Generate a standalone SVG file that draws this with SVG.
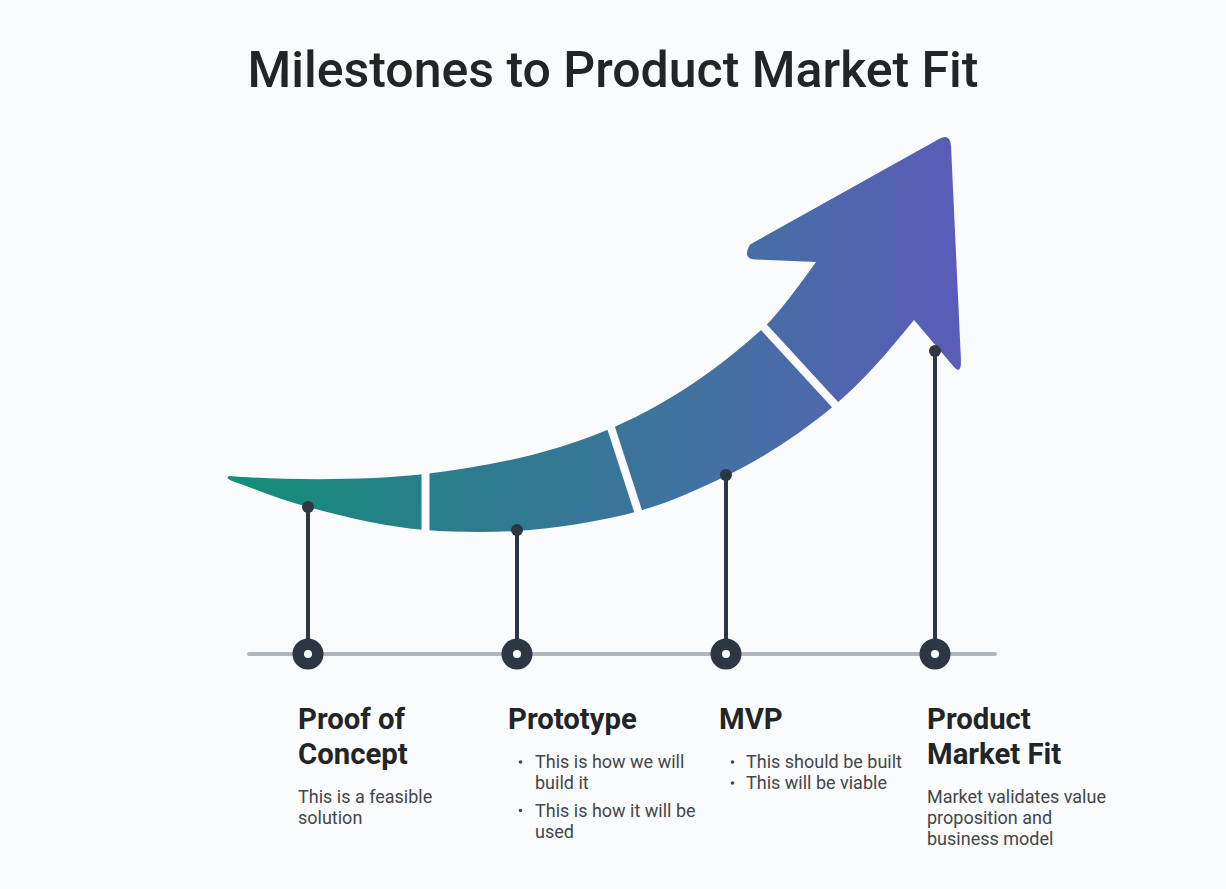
<svg xmlns="http://www.w3.org/2000/svg" width="1226" height="889" viewBox="0 0 1226 889">
<defs>
<linearGradient id="ag" gradientUnits="userSpaceOnUse" x1="229" y1="420" x2="961" y2="440">
<stop offset="0" stop-color="#128f77"/>
<stop offset="0.3" stop-color="#2a7d8b"/>
<stop offset="0.68" stop-color="#4470a3"/>
<stop offset="1" stop-color="#5c5bb9"/>
</linearGradient>
<style>
.stem{stroke:#2d3642;stroke-width:4;fill:none}
.dot{fill:#2d3642}
.ring{fill:#2d3642}
.hole{fill:#ffffff}
.bul{fill:#444649}
.gap{stroke:#fafbfc;stroke-width:8;fill:none}
.h{font-family:Roboto,"Liberation Sans",sans-serif;font-weight:700;font-size:29.3px;fill:#222426}
.t{font-family:Roboto,"Liberation Sans",sans-serif;font-weight:400;font-size:18px;fill:#444649}
.title{font-family:Roboto,"Liberation Sans",sans-serif;font-weight:500;font-size:50px;fill:#222426}
</style>
</defs>
<rect width="1226" height="889" fill="#fafbfc"/>
<text class="title" x="613" y="87" text-anchor="middle">Milestones to Product Market Fit</text>
<g id="arrow">
<path fill="url(#ag)" d="M 229,476 C 280,480 365,481 425,474 C 485,467 547,455 607,430 C 658,409 710,376 760,331 C 779,314 797,288 816,262 L 755,259.5 Q 742,259 750,244.5 L 939,139 Q 950,133 951,146 L 961,361 Q 961,375 954,367 L 914,320 C 889,351 862,382 836,404 C 799,435 763,458 726,476 C 697,490 668,503 639,511 C 599,522 557,528 517,531 C 487,532.5 456,532.4 426,530 C 387,527 347,517.5 308,507 C 282,500 258,490 232,481 Q 225,478 229,476 Z"/>
<line class="gap" x1="425.5" y1="468" x2="425.5" y2="536"/>
<line class="gap" x1="609.5" y1="423" x2="640" y2="517"/>
<line class="gap" x1="759" y1="322" x2="840" y2="410"/>
</g>
<g id="connectors">
<line x1="249" y1="654" x2="995" y2="654" stroke="#b1b6bb" stroke-width="4" stroke-linecap="round"/>
<line class="stem" x1="308" y1="507" x2="308" y2="654"/>
<line class="stem" x1="517" y1="530" x2="517" y2="654"/>
<line class="stem" x1="726" y1="475" x2="726" y2="654"/>
<line class="stem" x1="935" y1="351" x2="935" y2="654"/>
<circle class="dot" cx="308" cy="507" r="6"/>
<circle class="dot" cx="517" cy="530" r="6"/>
<circle class="dot" cx="726" cy="475" r="6"/>
<circle class="dot" cx="935" cy="351" r="6"/>
</g>
<g id="poc">
<circle class="ring" cx="308" cy="654" r="15.5"/>
<circle class="hole" cx="308" cy="654" r="4"/>
<text class="h" x="298" y="729">Proof of</text>
<text class="h" x="298" y="764">Concept</text>
<text class="t" x="298" y="803">This is a feasible</text>
<text class="t" x="298" y="824">solution</text>
</g>
<g id="prototype">
<circle class="ring" cx="517" cy="654" r="15.5"/>
<circle class="hole" cx="517" cy="654" r="4"/>
<text class="h" x="508" y="729">Prototype</text>
<circle class="bul" cx="520.5" cy="762" r="1.8"/>
<text class="t" x="535" y="768">This is how we will</text>
<text class="t" x="535" y="789">build it</text>
<circle class="bul" cx="520.5" cy="810.5" r="1.8"/>
<text class="t" x="535" y="817">This is how it will be</text>
<text class="t" x="535" y="838">used</text>
</g>
<g id="mvp">
<circle class="ring" cx="726" cy="654" r="15.5"/>
<circle class="hole" cx="726" cy="654" r="4"/>
<text class="h" x="719" y="729">MVP</text>
<circle class="bul" cx="732.5" cy="762" r="1.8"/>
<text class="t" x="746" y="768">This should be built</text>
<circle class="bul" cx="732.5" cy="783" r="1.8"/>
<text class="t" x="746" y="789">This will be viable</text>
</g>
<g id="pmf">
<circle class="ring" cx="935" cy="654" r="15.5"/>
<circle class="hole" cx="935" cy="654" r="4"/>
<text class="h" x="927" y="729">Product</text>
<text class="h" x="927" y="764">Market Fit</text>
<text class="t" x="927" y="803">Market validates value</text>
<text class="t" x="927" y="824">proposition and</text>
<text class="t" x="927" y="845">business model</text>
</g>
</svg>
